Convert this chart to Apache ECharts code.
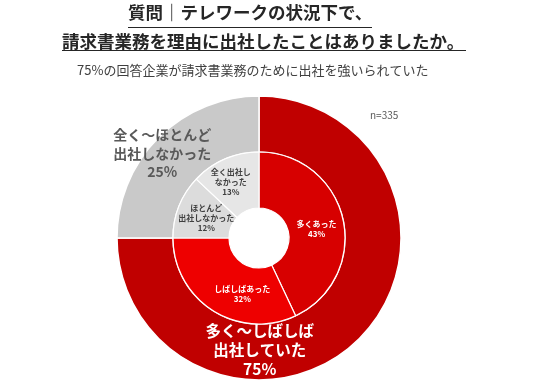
<!DOCTYPE html>
<html><head><meta charset="utf-8">
<script src="https://cdn.jsdelivr.net/npm/echarts@6/dist/echarts.min.js"></script>
<style>html,body{margin:0;padding:0;background:#fff}#c{width:540px;height:381px}</style>
</head><body><div id="c"></div>
<script>
const titleLines = ['質問｜テレワークの状況下で、', '請求書業務を理由に出社したことはありましたか。'];
const subtitle = '75%の回答企業が請求書業務のために出社を強いられていた';
const sampleNote = 'n=335';
const outerCategories = ['多く～しばしば\n出社していた', '全く～ほとんど\n出社しなかった'];
const outerValues = [75, 25];
const innerCategories = ['多くあった', 'しばしばあった', 'ほとんど\n出社しなかった', '全く出社し\nなかった'];
const innerValues = [43, 32, 12, 13];

const FONT = '"Noto Sans CJK JP", "Noto Sans", sans-serif';
const outerColors = ['#C00000', '#C9C9C9'];
const outerLabelColors = ['#FFFFFF', '#595959'];
const outerOffsets = [[-82, 29], [-14, -2]];
const outerFont = [15.5, 14];
const outerLH = [19, 18.5];
const innerColors = ['#D70000', '#EE0000', '#DCDCDC', '#E6E6E6'];
const innerLabelColors = ['#FFFFFF', '#FFFFFF', '#404040', '#404040'];
const innerOffsets = [[-2, 4], [16, 4], [4, 2], [-4, 0]];

const chart = echarts.init(document.getElementById('c'), null, {renderer: 'canvas'});
chart.setOption({
  animation: false,
  graphic: [
    {type: 'text', left: 128, top: 4, style: {text: titleLines[0], font: 'bold 17.5px ' + FONT, fill: '#262626'}},
    {type: 'line', shape: {x1: 128, y1: 27.5, x2: 372, y2: 27.5}, style: {stroke: '#262626', lineWidth: 1.2}},
    {type: 'text', left: 62, top: 33, style: {text: titleLines[1], font: 'bold 17.5px ' + FONT, fill: '#262626'}},
    {type: 'line', shape: {x1: 62, y1: 50.5, x2: 466, y2: 50.5}, style: {stroke: '#262626', lineWidth: 1.2}},
    {type: 'text', left: 77, top: 64, style: {text: subtitle, font: '13px ' + FONT, fill: '#404040'}},
    {type: 'text', left: 370, top: 110, style: {text: sampleNote, font: '10px ' + FONT, fill: '#595959'}}
  ],
  series: [
    {
      type: 'pie', radius: [86, 142], center: [259, 238], startAngle: 90, clockwise: true,
      silent: true, avoidLabelOverlap: false,
      labelLayout: {hideOverlap: false},
      itemStyle: {borderColor: '#fff', borderWidth: 1.5},
      label: {position: 'inside', formatter: '{b}\n{c}%', fontFamily: FONT, fontWeight: 'bold', align: 'center'},
      data: outerCategories.map((n, i) => ({
        name: n, value: outerValues[i],
        itemStyle: {color: outerColors[i]},
        label: {color: outerLabelColors[i], offset: outerOffsets[i], fontSize: outerFont[i], lineHeight: outerLH[i]}
      }))
    },
    {
      type: 'pie', radius: [30, 86], center: [259, 238], startAngle: 90, clockwise: true,
      silent: true, avoidLabelOverlap: false,
      labelLayout: {hideOverlap: false},
      itemStyle: {borderColor: '#fff', borderWidth: 1.2},
      label: {position: 'inside', formatter: '{b}\n{c}%', fontFamily: FONT, fontWeight: 'bold', fontSize: 8, lineHeight: 10, align: 'center'},
      data: innerCategories.map((n, i) => ({
        name: n, value: innerValues[i],
        itemStyle: {color: innerColors[i]},
        label: {color: innerLabelColors[i], offset: innerOffsets[i]}
      }))
    }
  ]
});
</script></body></html>
